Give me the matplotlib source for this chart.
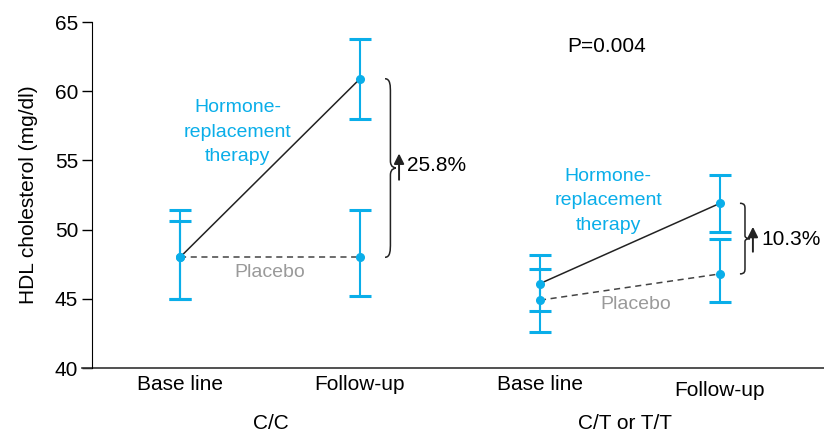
import matplotlib.pyplot as plt
import numpy as np
from matplotlib.path import Path
from matplotlib.patches import PathPatch

plt.rcParams['font.family'] = ['Liberation Sans', 'DejaVu Sans']

groups = ["C/C", "C/T or T/T"]
timepoints = ["Base line", "Follow-up"]
xpos = [0, 1, 2, 3]

# HRT (hormone-replacement therapy) means and error bar ends
hrt_mean = [48.0, 60.9, 46.1, 51.9]
hrt_upper = [51.4, 63.8, 48.2, 53.95]
hrt_lower = [45.0, 58.0, 44.1, 49.8]
# placebo
plc_mean = [48.0, 48.0, 44.9, 46.8]
plc_upper = [50.6, 51.4, 47.15, 49.3]
plc_lower = [45.0, 45.2, 42.6, 44.8]

changes = ["25.8%", "10.3%"]
p_text = "P=0.004"

blue = '#0aaee9'
gray = '#9a9a9a'
fs = 14
fs_ax = 15


def brace(ax, x, y0, y1, w):
    # right-pointing curly brace from y0 (bottom) to y1 (top)
    ym = (y0 + y1) / 2
    r = (y1 - y0) * 0.04
    verts = [(x, y1), (x + w * 0.5, y1), (x + w * 0.5, y1 - r), (x + w * 0.5, y1 - 2 * r),
             (x + w * 0.5, ym + r),
             (x + w * 0.5, ym), (x + w, ym), (x + w, ym),
             (x + w, ym), (x + w * 0.5, ym), (x + w * 0.5, ym - r),
             (x + w * 0.5, y0 + 2 * r),
             (x + w * 0.5, y0 + r), (x + w * 0.5, y0), (x, y0)]
    codes = [Path.MOVETO, Path.CURVE4, Path.CURVE4, Path.CURVE4,
             Path.LINETO,
             Path.CURVE4, Path.CURVE4, Path.CURVE4,
             Path.CURVE4, Path.CURVE4, Path.CURVE4,
             Path.LINETO,
             Path.CURVE4, Path.CURVE4, Path.CURVE4]
    ax.add_patch(PathPatch(Path(verts, codes), fill=False, lw=1.1, color='#222222'))


fig = plt.figure(figsize=(8.24, 4.32), dpi=100)
ax = fig.add_axes([92 / 824, 64 / 432, 732 / 824, 346 / 432])

for g in range(2):
    i0, i1 = 2 * g, 2 * g + 1
    ax.plot([xpos[i0], xpos[i1]], [hrt_mean[i0], hrt_mean[i1]], color='#222222', lw=1.1, zorder=2)
    ax.plot([xpos[i0], xpos[i1]], [plc_mean[i0], plc_mean[i1]], color='#444444', lw=1.1,
            ls=(0, (4, 3)), zorder=2)

for mean, up, lo in [(hrt_mean, hrt_upper, hrt_lower), (plc_mean, plc_upper, plc_lower)]:
    mean = np.array(mean)
    yerr = [mean - np.array(lo), np.array(up) - mean]
    ax.errorbar(xpos, mean, yerr=yerr, fmt='o', color=blue, ms=5.5, lw=1.5,
                capsize=8, capthick=2.2, zorder=3)

ax.set_xlim(-0.489, 3.578)
ax.set_ylim(40, 65)
ax.set_yticks(np.arange(40, 66, 5))
ax.tick_params(axis='y', direction='out', length=7, width=1, labelsize=fs_ax, pad=3)
ax.set_xticks([])
ax.spines['top'].set_visible(False)
ax.spines['right'].set_visible(False)
ax.spines['bottom'].set_visible(False)
ax.axhline(40, xmin=-0.014, xmax=1, color='#333333', lw=1.2, clip_on=False)
ax.set_ylabel("HDL cholesterol (mg/dl)", fontsize=fs_ax, labelpad=12)

tr = ax.get_xaxis_transform()
label_y = [-0.049, -0.049, -0.049, -0.066]
for i, x in enumerate(xpos):
    ax.text(x, label_y[i], timepoints[i % 2], transform=tr, ha='center', va='center', fontsize=fs_ax)
ax.text(0.505, -0.159, groups[0], transform=tr, ha='center', va='center', fontsize=fs_ax)
ax.text(2.47, -0.159, groups[1], transform=tr, ha='center', va='center', fontsize=fs_ax)

hrt_label = "Hormone-\nreplacement\ntherapy"
ax.text(0.32, 57.05, hrt_label, color=blue, ha='center', va='center', fontsize=fs, linespacing=1.6)
ax.text(2.378, 52.07, hrt_label, color=blue, ha='center', va='center', fontsize=fs, linespacing=1.6)
ax.text(0.5, 46.9, "Placebo", color=gray, ha='center', va='center', fontsize=fs)
ax.text(2.533, 44.6, "Placebo", color=gray, ha='center', va='center', fontsize=fs)
ax.text(2.372, 63.2, p_text, ha='center', va='center', fontsize=fs_ax)

brace(ax, 1.139, plc_mean[1], hrt_mean[1], 0.06)
brace(ax, 3.111, plc_mean[3], hrt_mean[3], 0.056)

for ax_x, y0, y1, tx, ty, s in [(1.217, 53.4, 55.7, 1.262, 54.6, changes[0]),
                                 (3.183, 48.2, 50.4, 3.228, 49.25, changes[1])]:
    ax.annotate('', xy=(ax_x, y1), xytext=(ax_x, y0),
                arrowprops=dict(arrowstyle='-|>,head_width=0.3,head_length=0.6', color='#222222', lw=1.4))
    ax.text(tx, ty, s, ha='left', va='center', fontsize=fs_ax)

fig.savefig('out.png', dpi=100)
